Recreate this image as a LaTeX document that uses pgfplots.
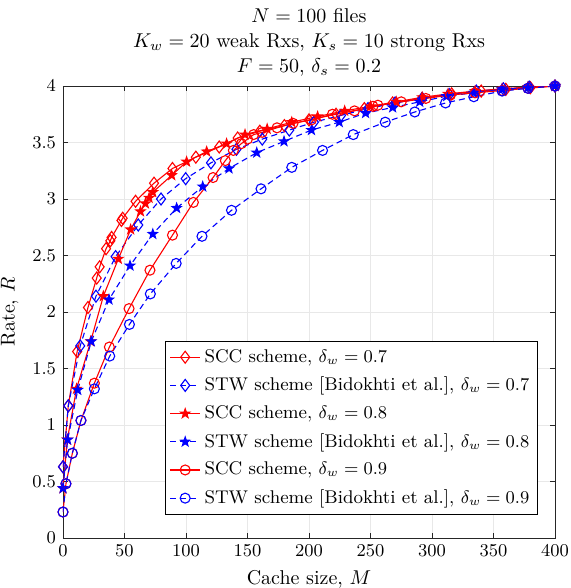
\documentclass[border=0pt]{standalone}
\usepackage{pgfplots}
\pgfplotsset{compat=1.18}

% MATLAB-style 5-point star
\pgfdeclareplotmark{pentagram}{%
  \pgfpathmoveto{\pgfpointpolar{90}{\pgfplotmarksize}}%
  \pgfpathlineto{\pgfpointpolar{126}{0.4\pgfplotmarksize}}%
  \pgfpathlineto{\pgfpointpolar{162}{\pgfplotmarksize}}%
  \pgfpathlineto{\pgfpointpolar{198}{0.4\pgfplotmarksize}}%
  \pgfpathlineto{\pgfpointpolar{234}{\pgfplotmarksize}}%
  \pgfpathlineto{\pgfpointpolar{270}{0.4\pgfplotmarksize}}%
  \pgfpathlineto{\pgfpointpolar{306}{\pgfplotmarksize}}%
  \pgfpathlineto{\pgfpointpolar{342}{0.4\pgfplotmarksize}}%
  \pgfpathlineto{\pgfpointpolar{18}{\pgfplotmarksize}}%
  \pgfpathlineto{\pgfpointpolar{54}{0.4\pgfplotmarksize}}%
  \pgfpathclose
  \pgfusepathqfillstroke
}

\definecolor{mred}{rgb}{1,0,0}
\definecolor{mblue}{rgb}{0,0,1}
\definecolor{axgray}{rgb}{0.15,0.15,0.15}

\begin{document}
\begin{tikzpicture}
\begin{axis}[
    scale only axis,
    width=246pt,
    height=226pt,
    xmin=0, xmax=400,
    ymin=0, ymax=4,
    xtick={0,50,...,400},
    ytick={0,0.5,...,4},
    grid=major,
    grid style={gray!18, line width=0.4pt},
    axis line style={axgray, line width=0.4pt},
    tick style={axgray, line width=0.4pt},
    major tick length=2.5pt,
    tick align=inside,
    tick label style={font=\fontsize{9.5}{11}\selectfont},
    xlabel={Cache size, $M$},
    ylabel={Rate, $R$},
    label style={font=\fontsize{10}{12}\selectfont},
    title style={align=center, font=\fontsize{10}{12.5}\selectfont, yshift=-4.5pt},
    title={$N=100$ files\\$K_w=20$ weak Rxs, $K_s=10$ strong Rxs\\$F=50$, $\delta_s=0.2$},
    legend style={at={(0.965,0.051)}, anchor=south east,
      draw=black, line width=0.4pt, fill=white,
      font=\fontsize{9.2}{11}\selectfont,
      row sep=1.9pt, inner sep=2pt},
    legend image code/.code={%
      \draw[mark repeat=2,mark phase=2] plot coordinates {(0cm,0cm) (0.26cm,0cm) (0.52cm,0cm)};},
    legend cell align=left,
    every axis plot/.append style={line width=0.55pt},
]
\addplot[mred, solid, mark=diamond, mark size=3pt, mark options={solid}] coordinates {
 (0,0.63) (4.3,1.17) (11.5,1.65) (20.3,2.04) (27.4,2.30) (29.8,2.40)
 (35,2.56) (38.5,2.63) (39.5,2.66) (47.5,2.81) (48.5,2.83) (59,2.98)
 (74,3.14) (89,3.27) (108,3.37) (127,3.46) (142,3.54) (160,3.60)
 (180,3.65) (200,3.70) (222,3.75) (245,3.80) (268,3.85) (292,3.89)
 (316,3.93) (340,3.955) (360,3.97) (380,3.985) (400,4.0)
};
\addlegendentry{SCC scheme, $\delta_w=0.7$}

\addplot[mblue, dash pattern=on 3pt off 2pt, mark=diamond, mark size=3pt, mark options={solid}] coordinates {
 (0,0.63) (4.3,1.17) (14,1.70) (26.8,2.14) (42.8,2.49) (61.2,2.77)
 (79.7,3.00) (99.7,3.18) (120.3,3.32) (141,3.44) (162,3.53) (184,3.61)
 (204,3.68) (226,3.74) (248,3.80) (270,3.85) (292,3.89) (314,3.925)
 (336,3.955) (358,3.975) (379,3.99) (400,4.0)
};
\addlegendentry{STW scheme [Bidokhti et al.], $\delta_w=0.7$}

\addplot[mred, solid, mark=pentagram, mark size=2.4pt, mark options={solid}] coordinates {
 (0,0.44) (3.5,0.87) (11,1.32) (22.5,1.74) (32.8,2.14) (45,2.47)
 (55,2.73) (63,2.89) (67,2.96) (70,3.01) (73,3.06) (88.4,3.21)
 (100.5,3.33) (116.8,3.42) (133,3.49) (148,3.57) (166,3.62) (186,3.68)
 (207,3.73) (229,3.78) (250,3.82) (271,3.86) (292,3.90) (313,3.93)
 (335,3.955) (357,3.975) (378,3.99) (400,4.0)
};
\addlegendentry{SCC scheme, $\delta_w=0.8$}

\addplot[mblue, dash pattern=on 3pt off 2pt, mark=pentagram, mark size=2.4pt, mark options={solid}] coordinates {
 (0,0.44) (3.8,0.87) (12,1.31) (23,1.74) (37.4,2.11) (54.5,2.41)
 (73,2.69) (92.4,2.92) (113.6,3.11) (135,3.27) (157.5,3.41) (179.7,3.51)
 (202,3.61) (224.6,3.68) (246,3.76) (268,3.81) (290,3.86) (312,3.91)
 (334,3.94) (357,3.97) (378,3.985) (400,4.0)
};
\addlegendentry{STW scheme [Bidokhti et al.], $\delta_w=0.8$}

\addplot[mred, solid, mark=o, mark size=2.5pt, mark options={solid}] coordinates {
 (0,0.23) (2.4,0.48) (7.6,0.75) (14.6,1.04) (25.5,1.37) (37.7,1.69)
 (53.7,2.03) (70.7,2.37) (89,2.68) (106,2.97) (122,3.19) (132,3.34)
 (138.5,3.43) (145,3.49) (150,3.53) (155,3.57) (162,3.59) (174,3.63)
 (187,3.67) (202,3.70) (219,3.75) (237,3.78) (252,3.82) (256,3.83)
 (275,3.86) (295,3.89) (315,3.92) (335,3.94) (357,3.96) (378,3.98) (400,4.0)
};
\addlegendentry{SCC scheme, $\delta_w=0.9$}

\addplot[mblue, dash pattern=on 3pt off 2pt, mark=o, mark size=2.5pt, mark options={solid}] coordinates {
 (0,0.23) (2.4,0.48) (7.6,0.75) (14.6,1.04) (25.5,1.32) (38,1.61)
 (54,1.89) (71,2.16) (92,2.43) (113,2.67) (137,2.90) (161,3.09)
 (186,3.28) (211,3.43) (236,3.57) (262,3.68) (286,3.77) (311,3.85)
 (334,3.905) (357,3.955) (378,3.98) (400,4.0)
};
\addlegendentry{STW scheme [Bidokhti et al.], $\delta_w=0.9$}
\end{axis}
\pgfresetboundingbox
\useasboundingbox ([shift={(-31.5pt,-25pt)}]current axis.south west)
  rectangle ([shift={(8pt,43pt)}]current axis.north east);
\end{tikzpicture}
\end{document}
